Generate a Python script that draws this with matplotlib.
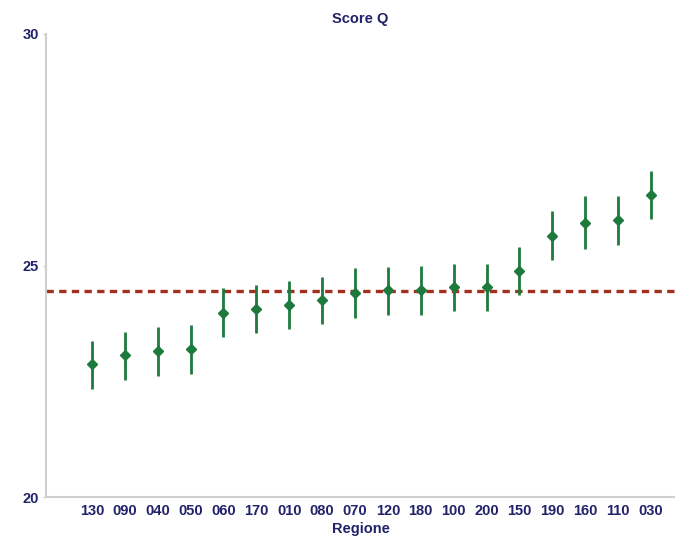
import matplotlib.pyplot as plt

regions = ["130", "090", "040", "050", "060", "170", "010", "080", "070",
           "120", "180", "100", "200", "150", "190", "160", "110", "030"]
score = [22.87, 23.06, 23.15, 23.20, 23.97, 24.06, 24.15, 24.25, 24.41,
         24.47, 24.47, 24.54, 24.54, 24.88, 25.64, 25.92, 25.98, 26.52]
lower = [22.33, 22.53, 22.61, 22.65, 23.45, 23.54, 23.63, 23.74, 23.87,
         23.94, 23.94, 24.02, 24.02, 24.36, 25.11, 25.36, 25.45, 26.00]
upper = [23.36, 23.57, 23.67, 23.71, 24.51, 24.58, 24.66, 24.75, 24.94,
         24.96, 24.98, 25.04, 25.04, 25.40, 26.18, 26.50, 26.51, 27.04]
reference = 24.45

navy = "#22226b"
green = "#1d7a3c"
red = "#a3301e"

plt.rcParams["font.family"] = ["Liberation Sans", "DejaVu Sans"]

fig = plt.figure(figsize=(6.75, 5.38), dpi=100)
ax = fig.add_axes([0.068, 0.076, 0.932, 0.861])

x = list(range(len(regions)))
yerr = [[s - lo for s, lo in zip(score, lower)], [hi - s for s, hi in zip(score, upper)]]
ax.axhline(reference, color=red, linestyle=(0, (2.2, 1.6)), linewidth=2.4, zorder=2)
ax.errorbar(x, score, yerr=yerr, fmt="D", color=green, markersize=5.5,
            elinewidth=2.0, capsize=0, zorder=3)

ax.set_xlim(-1.4, 17.73)
ax.set_ylim(20, 30)
ax.set_yticks([20, 25, 30])
ax.set_xticks(x)
ax.set_xticklabels(regions)
for lab in ax.get_xticklabels() + ax.get_yticklabels():
    lab.set_fontweight("bold")
    lab.set_color(navy)
    lab.set_fontsize(10.5)

ax.tick_params(axis="x", length=0, pad=5)
ax.tick_params(axis="y", length=2, color="#cccccc", pad=3)
ax.set_xlabel("Regione", fontsize=10.5, fontweight="bold", color=navy, labelpad=3)
ax.set_title("Score Q", fontsize=10.5, fontweight="bold", color=navy, pad=8)

for side in ("top", "right"):
    ax.spines[side].set_visible(False)
for side in ("left", "bottom"):
    ax.spines[side].set_color("#cfcfcf")
    ax.spines[side].set_linewidth(1.5)

fig.savefig("out.png", dpi=100)
